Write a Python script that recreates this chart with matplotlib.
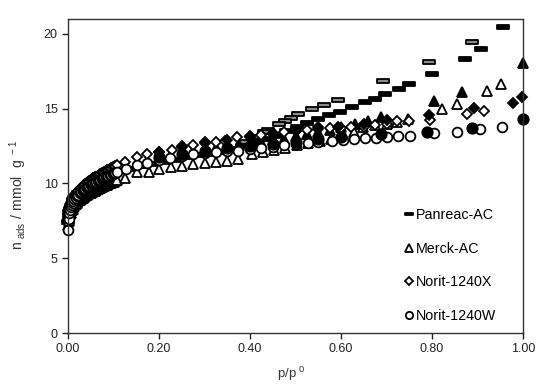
import numpy as np
import matplotlib
matplotlib.use("Agg")
import matplotlib.pyplot as plt
from matplotlib.path import Path

plt.rcParams['font.family'] = ['Liberation Sans', 'DejaVu Sans']
plt.rcParams['mathtext.fontset'] = 'custom'
plt.rcParams['mathtext.rm'] = 'Liberation Sans'

# low-pressure points shared by all isotherms
p_low = [0.0005, 0.0015, 0.003, 0.0045, 0.006, 0.008, 0.010, 0.012, 0.014, 0.017,
         0.020, 0.023, 0.026, 0.029, 0.032, 0.035, 0.038, 0.041, 0.044, 0.047,
         0.050, 0.053, 0.056, 0.059, 0.062, 0.065, 0.068, 0.071, 0.074, 0.077,
         0.080, 0.083, 0.086, 0.089, 0.092, 0.095, 0.098, 0.101, 0.104, 0.107]

# Panreac-AC
pan_ads_x = p_low + [0.133, 0.158, 0.183, 0.208, 0.233, 0.258, 0.283, 0.308, 0.333, 0.358,
                     0.383, 0.408, 0.433, 0.458, 0.480, 0.503, 0.525, 0.550, 0.574, 0.598,
                     0.625, 0.653, 0.675, 0.697, 0.727, 0.750, 0.800, 0.872, 0.908, 0.955]
pan_ads_y = [7.4, 7.8, 8.1, 8.3, 8.47, 8.63, 8.77, 8.9, 9.0, 9.13,
             9.25, 9.35, 9.44, 9.52, 9.6, 9.68, 9.75, 9.82, 9.88, 9.94,
             10.0, 10.06, 10.11, 10.16, 10.21, 10.26, 10.31, 10.36, 10.41, 10.46,
             10.5, 10.54, 10.58, 10.62, 10.66, 10.7, 10.74, 10.78, 10.82, 10.86,
             10.95, 11.15, 11.3, 11.45, 11.6, 11.75, 11.9, 12.0, 12.12, 12.3,
             12.5, 12.75, 12.95, 13.2, 13.5, 13.8, 14.07, 14.29, 14.58, 14.8,
             15.09, 15.44, 15.64, 15.98, 16.33, 16.67, 17.3, 18.33, 19.0, 20.47]
pan_des_x = [0.888, 0.793, 0.692, 0.593, 0.562, 0.536, 0.506, 0.490, 0.477, 0.464, 0.440, 0.430, 0.410, 0.385]
pan_des_y = [19.47, 18.13, 16.87, 15.6, 15.25, 14.98, 14.62, 14.38, 14.2, 13.98, 13.6, 13.42, 13.1, 12.8]

# Merck-AC
mer_ads_x = p_low + [0.125, 0.152, 0.177, 0.200, 0.226, 0.250, 0.275, 0.300, 0.325, 0.349,
                     0.374, 0.404, 0.428, 0.453, 0.478, 0.503, 0.528, 0.553, 0.578, 0.603,
                     0.629, 0.649, 0.675, 0.700, 0.722, 0.748, 0.823, 0.856, 0.920, 0.951]
mer_ads_y = [7.2, 7.5, 7.8, 7.95, 8.05, 8.2, 8.3, 8.4, 8.5, 8.6,
             8.7, 8.8, 8.87, 8.95, 9.02, 9.1, 9.15, 9.22, 9.28, 9.33,
             9.38, 9.43, 9.48, 9.53, 9.58, 9.63, 9.67, 9.72, 9.76, 9.8,
             9.84, 9.88, 9.92, 9.96, 10.0, 10.04, 10.08, 10.12, 10.16, 10.2,
             10.38, 10.76, 10.76, 10.95, 11.1, 11.2, 11.3, 11.4, 11.45, 11.53,
             11.64, 11.98, 12.1, 12.25, 12.4, 12.55, 12.69, 12.85, 13.0, 13.2,
             13.42, 13.76, 13.93, 13.98, 14.09, 14.29, 14.96, 15.31, 16.16, 16.64]
mer_des_x = [1.0, 0.867, 0.804, 0.687, 0.660, 0.630, 0.600, 0.575, 0.550, 0.525, 0.500, 0.475,
             0.450, 0.425, 0.400, 0.375, 0.350, 0.325, 0.300, 0.275, 0.250, 0.225, 0.200]
mer_des_y = [18.07, 16.09, 15.49, 14.47, 14.2, 13.95, 13.75, 13.6, 13.45, 13.3, 13.15, 13.0,
             12.9, 12.8, 12.7, 12.6, 12.5, 12.4, 12.3, 12.15, 12.0, 11.85, 11.7]

# Norit-1240X
nx_ads_x = p_low + [0.125, 0.152, 0.173, 0.200, 0.228, 0.250, 0.275, 0.300, 0.325, 0.345,
                    0.371, 0.400, 0.425, 0.450, 0.475, 0.500, 0.525, 0.550, 0.575, 0.600,
                    0.623, 0.650, 0.675, 0.700, 0.722, 0.750, 0.796, 0.876, 0.914]
nx_ads_y = [7.6, 8.0, 8.25, 8.42, 8.58, 8.75, 8.9, 9.02, 9.14, 9.28,
            9.4, 9.52, 9.62, 9.71, 9.8, 9.88, 9.95, 10.02, 10.09, 10.16,
            10.22, 10.28, 10.34, 10.4, 10.46, 10.52, 10.57, 10.62, 10.67, 10.72,
            10.77, 10.82, 10.87, 10.92, 10.97, 11.02, 11.07, 11.12, 11.17, 11.22,
            11.42, 11.75, 11.98, 12.1, 12.24, 12.42, 12.58, 12.7, 12.8, 12.87,
            13.09, 13.15, 13.25, 13.35, 13.45, 13.5, 13.55, 13.62, 13.7, 13.72,
            13.76, 13.8, 13.9, 14.0, 14.16, 14.2, 14.27, 14.62, 14.82]
nx_des_x = [0.997, 0.978, 0.892, 0.794, 0.700, 0.650, 0.594, 0.550, 0.500, 0.450, 0.400, 0.350, 0.300, 0.250, 0.200]
nx_des_y = [15.76, 15.38, 15.04, 14.58, 14.25, 14.0, 13.76, 13.76, 13.5, 13.3, 13.1, 12.9, 12.75, 12.5, 12.1]

# Norit-1240W
nw_ads_x = p_low + [0.127, 0.152, 0.173, 0.200, 0.225, 0.250, 0.275, 0.300, 0.325, 0.350,
                    0.374, 0.400, 0.425, 0.450, 0.475, 0.500, 0.528, 0.550, 0.580, 0.604,
                    0.629, 0.653, 0.677, 0.701, 0.726, 0.751, 0.805, 0.854, 0.905, 0.954]
nw_ads_y = [6.9, 7.6, 8.0, 8.25, 8.42, 8.58, 8.7, 8.82, 8.93, 9.05,
            9.16, 9.26, 9.35, 9.43, 9.5, 9.58, 9.65, 9.72, 9.78, 9.84,
            9.9, 9.96, 10.01, 10.06, 10.11, 10.16, 10.21, 10.26, 10.31, 10.35,
            10.4, 10.44, 10.48, 10.52, 10.56, 10.6, 10.64, 10.68, 10.72, 10.76,
            11.0, 11.25, 11.4, 11.55, 11.7, 11.85, 11.98, 12.05, 12.1, 12.15,
            12.2, 12.3, 12.35, 12.45, 12.55, 12.62, 12.72, 12.78, 12.84, 12.89,
            12.95, 13.02, 13.02, 13.09, 13.2, 13.2, 13.38, 13.47, 13.62, 13.76]
nw_des_x = [1.0, 0.888, 0.788, 0.689, 0.600, 0.550, 0.500, 0.450, 0.400, 0.350, 0.300, 0.250, 0.200]
nw_des_y = [14.33, 13.73, 13.47, 13.31, 13.1, 12.95, 12.8, 12.65, 12.5, 12.35, 12.2, 12.0, 11.8]

labels = ['Panreac-AC', 'Merck-AC', 'Norit-1240X', 'Norit-1240W']

dash = Path([(-1, -0.28), (1, -0.28), (1, 0.28), (-1, 0.28), (-1, -0.28)],
            [Path.MOVETO, Path.LINETO, Path.LINETO, Path.LINETO, Path.CLOSEPOLY])

fig = plt.figure(figsize=(5.5, 3.87), dpi=100)
ax = fig.add_axes([68 / 550, 54 / 387, 455 / 550, 314 / 387])

kw = dict(linestyle='none', clip_on=False, markeredgecolor='black', markeredgewidth=1.3)
h1, = ax.plot(pan_ads_x, pan_ads_y, marker=dash, ms=8, markerfacecolor='black', **kw)
ax.plot(pan_des_x, pan_des_y, marker=dash, ms=8, markerfacecolor='#8a8a8a', **kw)
h2, = ax.plot(mer_ads_x, mer_ads_y, marker='^', ms=7, markerfacecolor='white', **kw)
ax.plot(mer_des_x, mer_des_y, marker='^', ms=7, markerfacecolor='black', **kw)
h3, = ax.plot(nx_ads_x, nx_ads_y, marker='D', ms=5.5, markerfacecolor='white', **kw)
ax.plot(nx_des_x, nx_des_y, marker='D', ms=5.5, markerfacecolor='black', **kw)
h4, = ax.plot(nw_ads_x, nw_ads_y, marker='o', ms=7, markerfacecolor='white', **kw)
ax.plot(nw_des_x, nw_des_y, marker='o', ms=7.5, markerfacecolor='black', **kw)

ax.set_xlim(0, 1.0)
ax.set_ylim(0, 21)
ax.set_xticks([0, 0.2, 0.4, 0.6, 0.8, 1.0])
ax.set_xticklabels(['0.00', '0.20', '0.40', '0.60', '0.80', '1.00'])
ax.set_yticks([0, 5, 10, 15, 20])
ax.tick_params(direction='out', length=4, width=1, labelsize=9, colors='#222222')
for s in ax.spines.values():
    s.set_linewidth(1.0)
    s.set_color('#333333')

ax.set_xlabel(r'$\mathregular{p/p^{\ 0}}$', fontsize=9.5, color='#333333')
ax.xaxis.set_label_coords(0.49, -0.1)
ax.set_ylabel(r'$\mathregular{n_{\ ads}\ /\ mmol\ \ g^{\ -1}}$', fontsize=10, color='#333333')
ax.yaxis.set_label_coords(-0.085, 0.44)

ax.legend([h1, h2, h3, h4], labels, loc='upper left', bbox_to_anchor=(0.725, 0.415),
          frameon=False, fontsize=10.3, markerscale=0.75, handlelength=0.7,
          handletextpad=0.15, labelspacing=1.36, borderaxespad=0)

fig.savefig('out.png', dpi=100)
